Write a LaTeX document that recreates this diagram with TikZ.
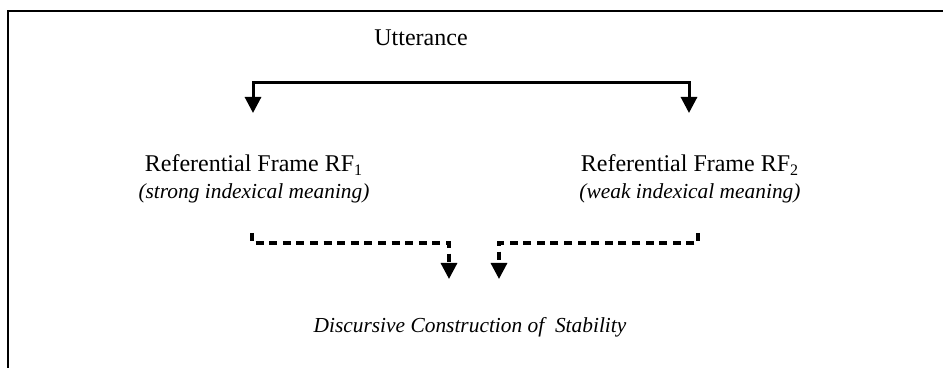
\documentclass[tikz,border=0pt]{standalone}
\usepackage{fontspec}
\setmainfont{Liberation Serif}
\usetikzlibrary{arrows.meta}
\newcommand{\itx}[1]{{\fontsize{10.7}{13.5}\selectfont\itshape #1}}
\tikzset{
  lbl/.style={align=center, font=\fontsize{12}{13.5}\selectfont, inner sep=0pt},
  solidarr/.style={line width=1.5pt, {Triangle[width=8pt,length=8pt]}-{Triangle[width=8pt,length=8pt]}},
  dasharr/.style={line width=1.6pt, dash pattern=on 4pt off 2.8pt, -{Triangle[width=8pt,length=8pt]}}
}
\begin{document}
\begin{tikzpicture}[x=0.5pt,y=-0.5pt]
\useasboundingbox (0,0) rectangle (943,368);
\draw[line width=1pt] (8,368) -- (8,11) -- (943,11);
\node[lbl] (utt) at (421,38){Utterance};
\node[lbl] (rf1) at (254,179){Referential Frame RF\textsubscript{1}\\\itx{(strong indexical meaning)}};
\node[lbl] (rf2) at (690,179){Referential Frame RF\textsubscript{2}\\\itx{(weak indexical meaning)}};
\node[lbl] (dcs) at (470,327){\itx{Discursive Construction of \ Stability}};
\coordinate (t1) at (253,113);
\coordinate (t2) at (689,113);
\coordinate (bm) at (471,83);
\draw[solidarr] (t1) |- (bm) -| (t2);
\coordinate (s1) at (252,233);
\coordinate (e1) at (449,279);
\coordinate (s2) at (698,233);
\coordinate (e2) at (499,279);
\draw[dasharr] (s1) -- ++(0,10) -| (e1);
\draw[dasharr] (s2) -- ++(0,10) -| (e2);
\end{tikzpicture}
\end{document}
